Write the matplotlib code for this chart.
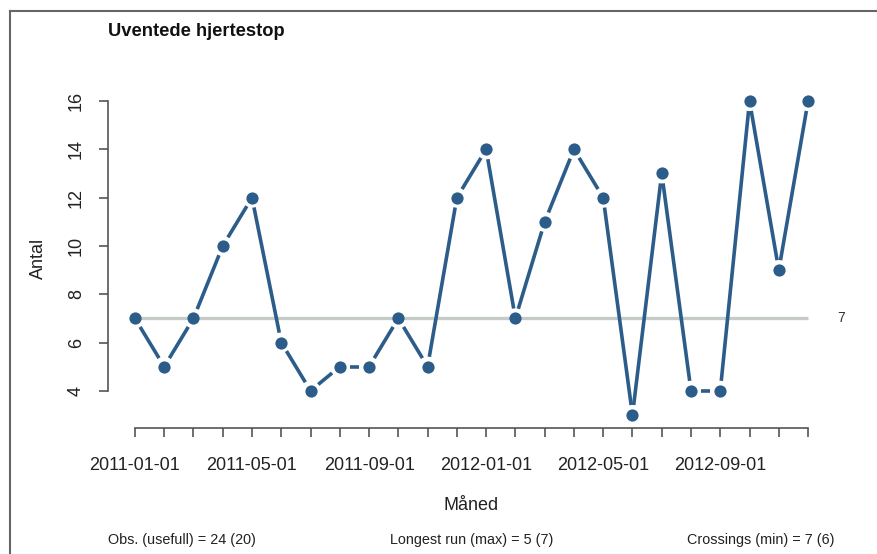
import numpy as np
import matplotlib
matplotlib.use("Agg")
from matplotlib import pyplot as plt

plt.rcParams['font.family'] = ['Liberation Sans', 'DejaVu Sans']

# data
months = ["2011-01-01", "2011-02-01", "2011-03-01", "2011-04-01", "2011-05-01", "2011-06-01",
          "2011-07-01", "2011-08-01", "2011-09-01", "2011-10-01", "2011-11-01", "2011-12-01",
          "2012-01-01", "2012-02-01", "2012-03-01", "2012-04-01", "2012-05-01", "2012-06-01",
          "2012-07-01", "2012-08-01", "2012-09-01", "2012-10-01", "2012-11-01", "2012-12-01"]
counts = [7, 5, 7, 10, 12, 6, 4, 5, 5, 7, 5, 12, 14, 7, 11, 14, 12, 3, 13, 4, 4, 16, 9, 16]
median_value = 7
title = "Uventede hjertestop"
stats_texts = ["Obs. (usefull) = 24 (20)", "Longest run (max) = 5 (7)", "Crossings (min) = 7 (6)"]

blue = '#2c5d8a'
grey_line = '#c5cbc5'
axis_col = '#555555'

fig = plt.figure(figsize=(8.78, 5.54), dpi=100)
ax = fig.add_axes([108 / 878, 1 - 427.5 / 554, (835 - 108) / 878, (427.5 - 88.5) / 554])

x = np.arange(len(counts))
y = np.array(counts, dtype=float)
xpad = (len(counts) - 1) * 0.04
ypad = (max(counts) - min(counts)) * 0.04
ax.set_xlim(-xpad, len(counts) - 1 + xpad)
ax.set_ylim(min(counts) - ypad, max(counts) + ypad)

# median line
ax.plot([x[0], x[-1]], [median_value, median_value], color=grey_line, lw=2.4, zorder=1,
        solid_capstyle='butt')
ax.text(x[-1] + 1.0, median_value, str(median_value), fontsize=10, color='#333333',
        va='center', ha='left')

# R type="b": line segments with a gap around each point
gap = 10.0
pts = ax.transData.transform(np.column_stack([x, y]))
inv = ax.transData.inverted()
for i in range(len(pts) - 1):
    p0, p1 = pts[i], pts[i + 1]
    d = p1 - p0
    length = np.hypot(*d)
    if length <= 2 * gap:
        continue
    u = d / length
    a = inv.transform(p0 + u * gap)
    b = inv.transform(p1 - u * gap)
    ax.plot([a[0], b[0]], [a[1], b[1]], color=blue, lw=2.6, zorder=2, solid_capstyle='butt')

ax.plot(x, y, 'o', color=blue, markersize=8.8, markeredgewidth=0, zorder=3)

# axes in R style
for s in ['top', 'right']:
    ax.spines[s].set_visible(False)
ax.spines['left'].set_bounds(4, 16)
ax.spines['bottom'].set_bounds(x[0], x[-1])
for s in ['left', 'bottom']:
    ax.spines[s].set_color(axis_col)
    ax.spines[s].set_linewidth(1.2)

ax.set_yticks([4, 6, 8, 10, 12, 14, 16])
ax.set_xticks(x)
ax.set_xticklabels([m if i % 4 == 0 else '' for i, m in enumerate(months)])
ax.tick_params(axis='both', direction='out', length=6.5, width=1.2, color=axis_col,
               labelsize=13, labelcolor='#222222')
ax.tick_params(axis='x', pad=15)
ax.tick_params(axis='y', pad=10)
for lab in ax.get_yticklabels():
    lab.set_rotation(90)
    lab.set_va('center')

ax.set_ylabel("Antal", fontsize=13, color='#222222', labelpad=15)
ax.set_xlabel("Måned", fontsize=13, color='#222222', labelpad=16)

fig.text(108 / 878, 1 - 32 / 554, title, fontsize=13.2, fontweight='bold', ha='left',
         va='center', color='#111111')

fig.text(108 / 878, 1 - 540 / 554, stats_texts[0], fontsize=10.4, ha='left', va='center', color='#222222')
fig.text(471.5 / 878, 1 - 540 / 554, stats_texts[1], fontsize=10.4, ha='center', va='center', color='#222222')
fig.text(835 / 878, 1 - 540 / 554, stats_texts[2], fontsize=10.4, ha='right', va='center', color='#222222')

# outer frame (left and top edges visible)
fig.add_artist(plt.Line2D([10 / 878, 10 / 878], [0, 1 - 11 / 554], color='#666666', lw=1.5,
                          transform=fig.transFigure))
fig.add_artist(plt.Line2D([10 / 878, 1], [1 - 11 / 554, 1 - 11 / 554], color='#666666', lw=1.5,
                          transform=fig.transFigure))

fig.savefig("out.png", dpi=100)
